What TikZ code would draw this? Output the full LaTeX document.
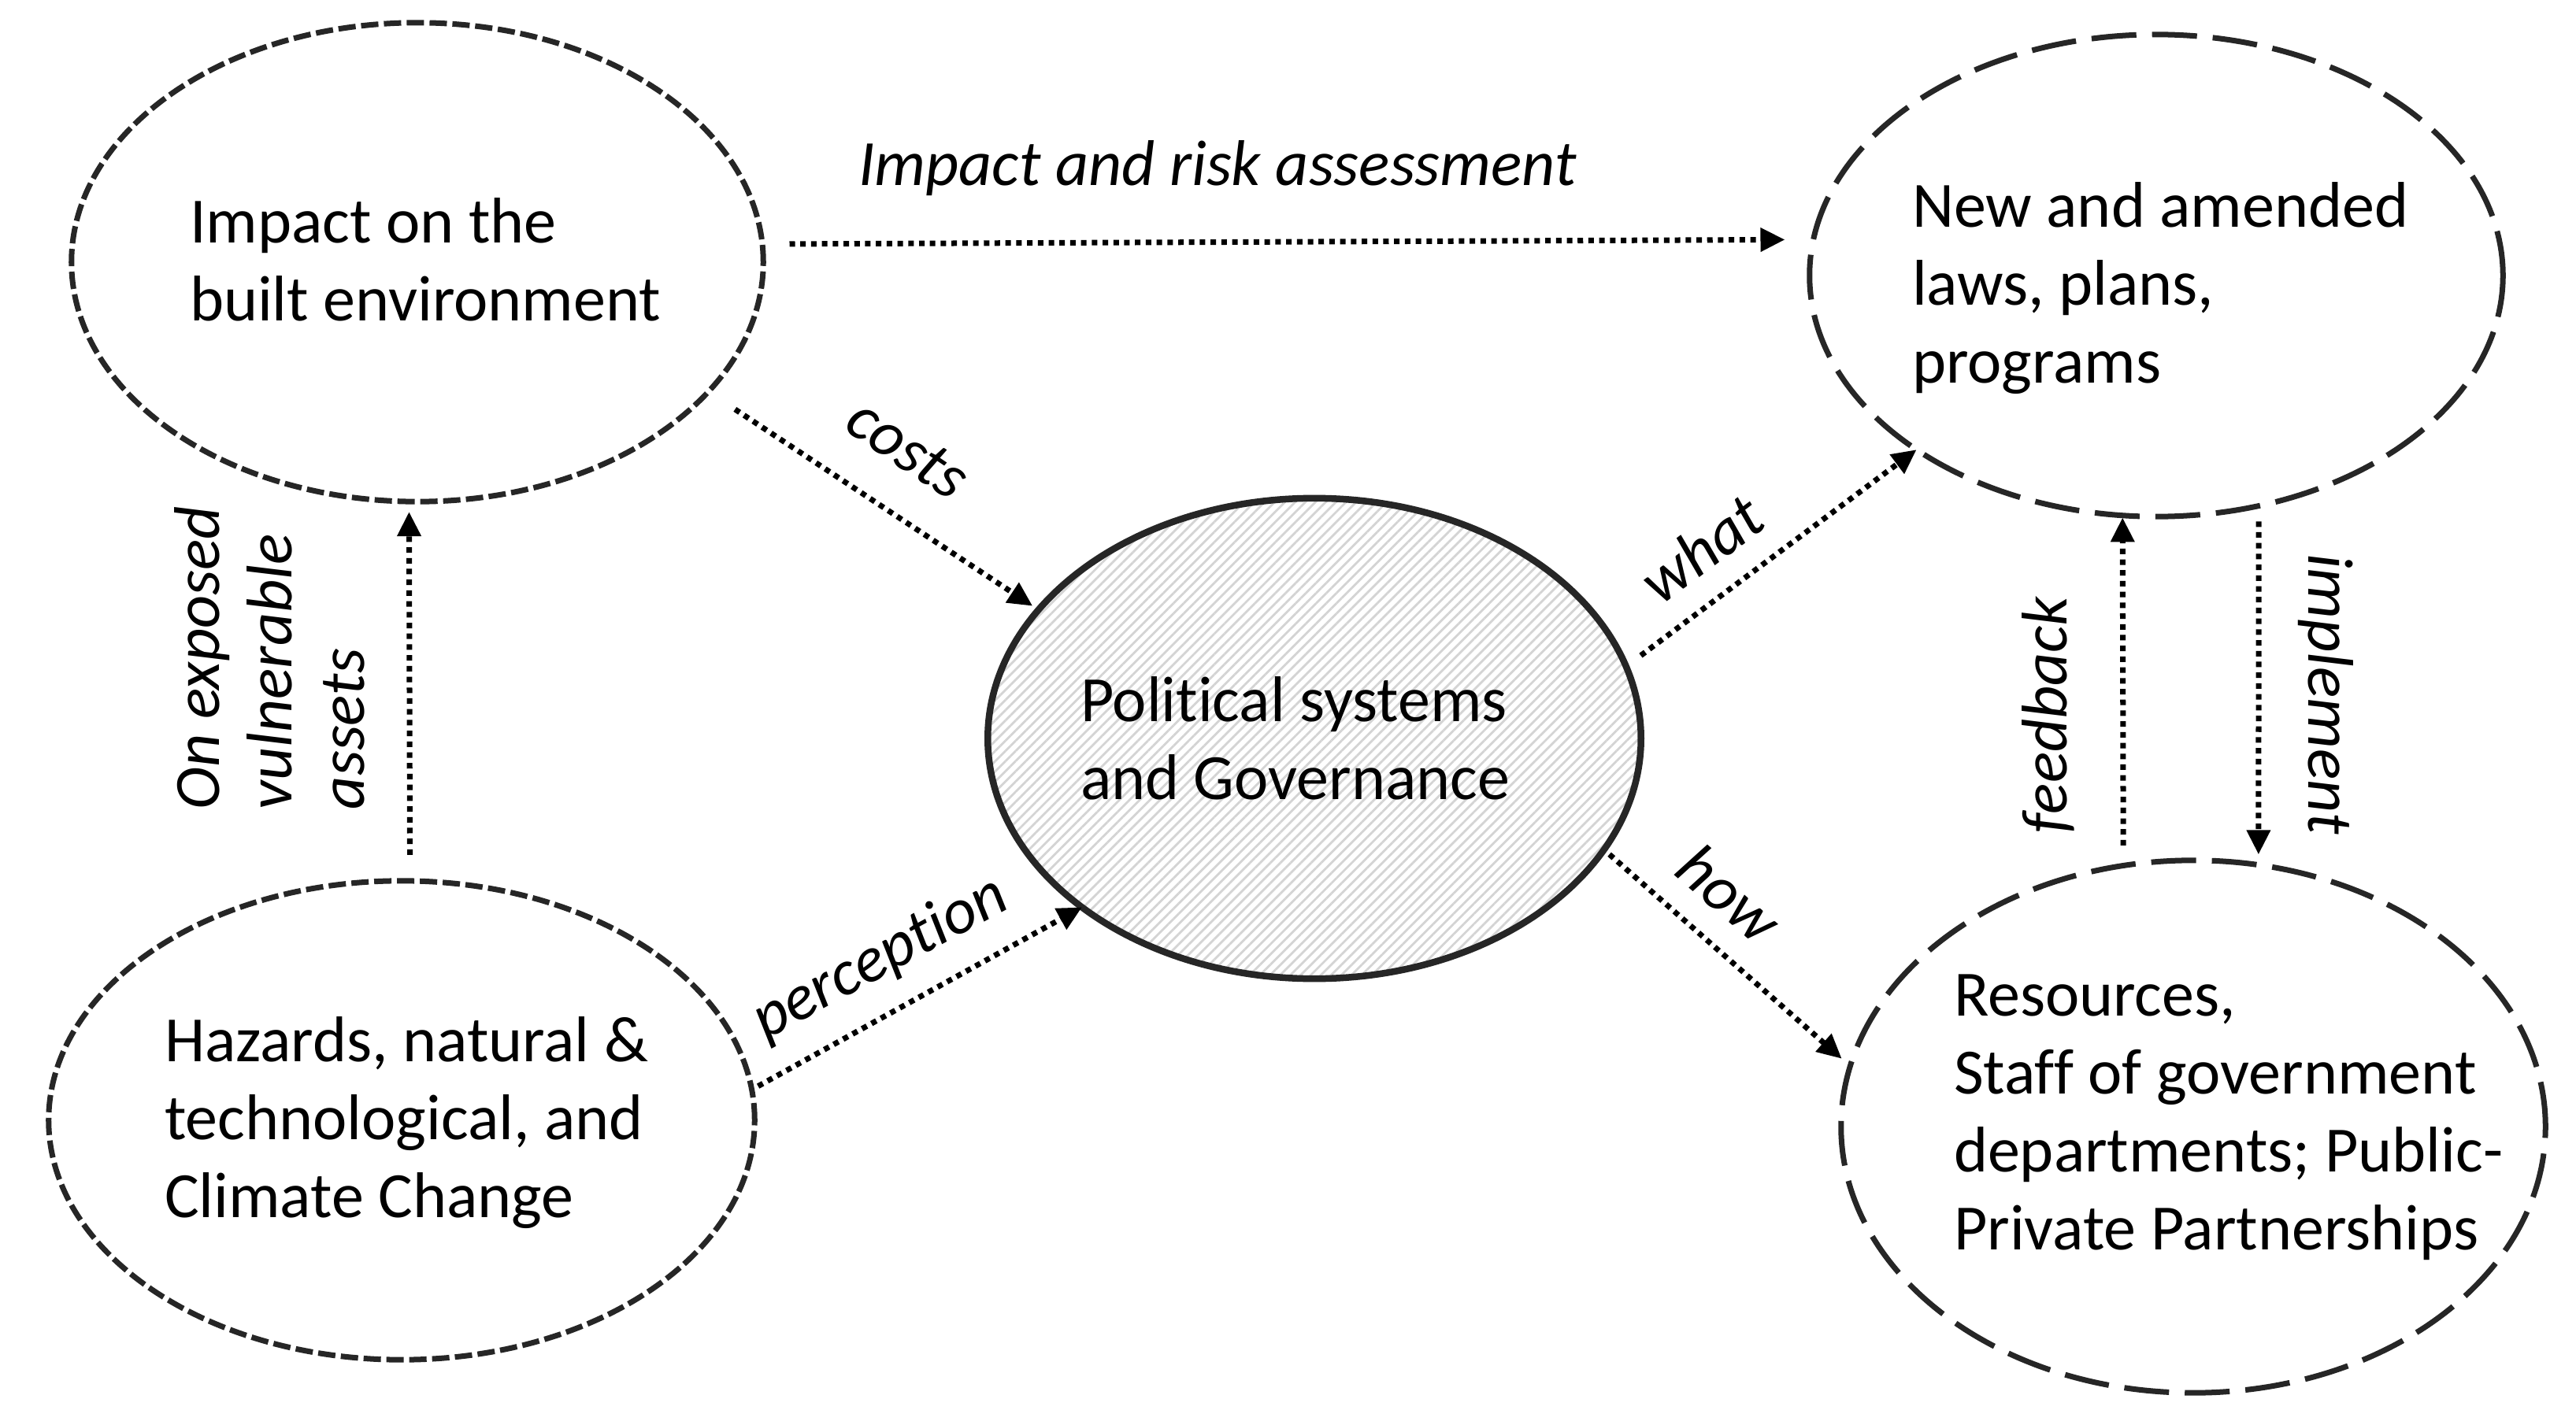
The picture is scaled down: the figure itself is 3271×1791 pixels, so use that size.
\documentclass[tikz,border=0pt]{standalone}
\usepackage{fontspec}
\setmainfont{Carlito}[Ligatures=NoCommon]
\usetikzlibrary{arrows.meta,shapes.geometric,patterns.meta}
\definecolor{edge}{HTML}{262626}
\newcommand\mylines[1]{\begin{tabular}[t]{@{}l@{}}#1\end{tabular}}
\tikzset{
  ell/.style={ellipse, draw=edge, line width=0.07cm, inner sep=0pt, outer sep=0pt},
  shortdash/.style={dash pattern=on 0.22cm off 0.07cm},
  longdash/.style={dash pattern=on 0.57cm off 0.2cm},
  arr/.style={-{Triangle[length=0.31cm,width=0.29cm]}, line width=0.07cm,
              dash pattern=on 0.07cm off 0.067cm, black},
  txt/.style={inner sep=0pt, outer sep=0pt, font=\fontsize{23.33pt}{28.17pt}\selectfont},
  lbl/.style={inner sep=0pt, outer sep=0pt, font=\fontsize{23.33pt}{28.17pt}\selectfont\itshape},
}
\begin{document}
\begin{tikzpicture}[x=0.01cm, y=-0.01cm]
\useasboundingbox (0,0) rectangle (3271,1791);
% ellipses
\node[ell, shortdash, minimum width=8.78cm, minimum height=6.08cm] (A) at (530,333) {};
\node[ell, longdash, minimum width=8.80cm, minimum height=6.12cm] (B) at (2738,350) {};
\node[ell, line width=0.085cm, minimum width=8.29cm, minimum height=6.10cm,
      pattern={Lines[angle=45,distance=2.6pt,line width=0.8pt]}, pattern color=black!17] (P) at (1669,938) {};
\node[ell, shortdash, minimum width=8.96cm, minimum height=6.08cm] (H) at (510,1423) {};
\node[ell, longdash, minimum width=8.94cm, minimum height=6.76cm] (R) at (2785,1431) {};
% texts
\node[txt, anchor=base west] (tA) at (241,308) {\mylines{Impact on the\\built environment}};
\node[txt, anchor=base west] (tB) at (2428,288) {\mylines{New and amended\\laws, plans,\\programs}};
\node[txt, anchor=base west] (tP) at (1372,916) {\mylines{Political systems\\and Governance}};
\node[txt, anchor=base west] (tH) at (209,1348) {\mylines{Hazards, natural \&\\technological, and\\Climate Change}};
\node[txt, anchor=base west] (tR) at (2481,1290) {\mylines{Resources,\\Staff of government\\departments; Public-\\Private Partnerships}};
% labels
\node[lbl, anchor=base west] (l1) at (1090,236) {Impact and risk assessment};
\node[lbl, rotate=-34] (l2) at (1153,570) {costs};
\node[lbl, rotate=37] (l3) at (2160,697) {what};
\node[lbl, rotate=-41] (l4) at (2196,1135) {how};
\node[lbl, rotate=28.5] (l5) at (1118,1218) {perception};
\node[lbl, rotate=90, anchor=base west, font=\fontsize{23.33pt}{26.18pt}\selectfont\itshape] (l6) at (278,1028) {\mylines{On exposed\\vulnerable\\assets}};
\node[lbl, rotate=90, anchor=base west] (l7) at (2624,1058) {feedback};
\node[lbl, rotate=-90, anchor=base west] (l8) at (2931,703) {implement};
% connectors
\draw[arr, shorten <=0.345cm, shorten >=0.362cm] (A.3.27) -- (B.174.5);
\draw[arr, shorten <=0.406cm, shorten >=0.09cm] (A.-24.98) -- (P.155.97);
\draw[arr, shorten <=0.234cm] (P.13.39) -- (B.-144.92);
\draw[arr, shorten <=0.092cm, shorten >=0.143cm] (P.-21.32) -- (R.170.43);
\draw[arr, shorten <=0.092cm] (H.5.88) -- (P.-144.56);
\draw[arr, shorten <=0.33cm, shorten >=0.13cm] (H.88.30) -- (A.-92.07);
\draw[arr, shorten <=0.256cm, shorten >=0.027cm] (R.105.88) -- (B.-98.78);
\draw[arr, shorten <=0.198cm, shorten >=0.133cm] (B.-66.75) -- (R.76.64);
\end{tikzpicture}
\end{document}
